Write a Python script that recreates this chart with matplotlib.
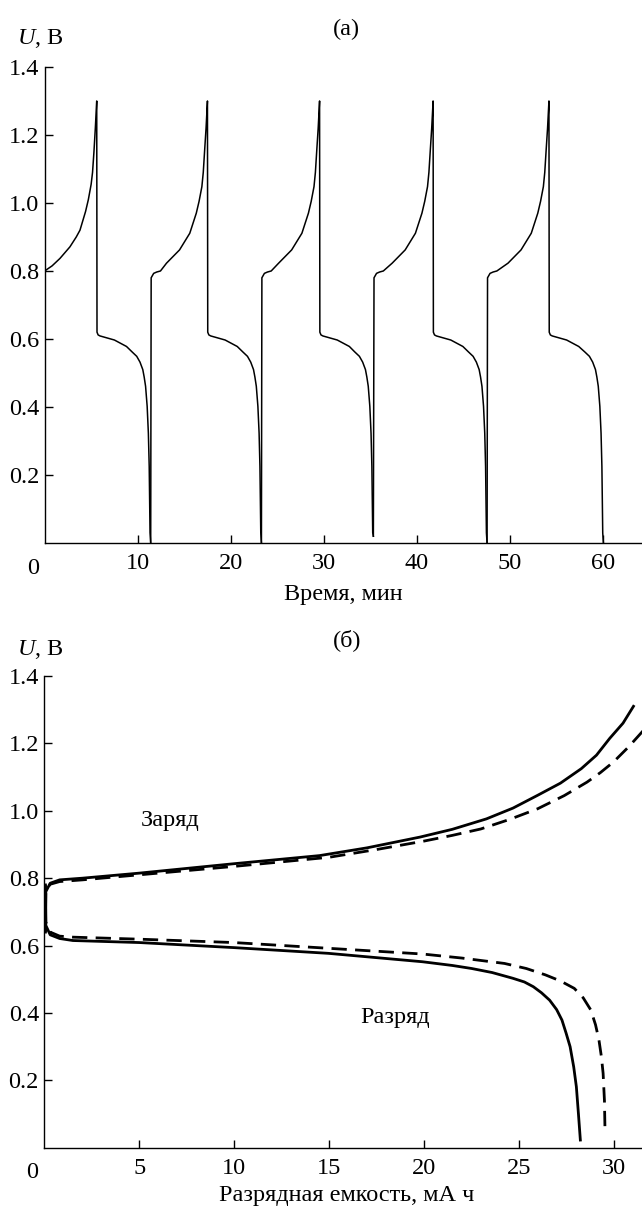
import matplotlib
matplotlib.use("Agg")
import matplotlib.pyplot as plt

plt.rcParams['font.family'] = ['Liberation Serif', 'DejaVu Serif']
plt.rcParams['mathtext.fontset'] = 'custom'
plt.rcParams['mathtext.rm'] = 'Liberation Serif'
plt.rcParams['mathtext.it'] = 'Liberation Serif:italic'

FS = 17.5

# (a) voltage vs time
# first (partial) charge, from t = 0
first_t = [0.0, 0.8, 1.65, 2.72, 3.4, 3.8, 4.4, 4.7, 5.0, 5.15, 5.3, 5.45, 5.6]
first_u = [0.80, 0.815, 0.837, 0.871, 0.90, 0.92, 0.975, 1.01, 1.055, 1.09, 1.15, 1.22, 1.30]

# times of charge start, peak (1.3 V) and end of discharge for every cycle
cycle_start = [None, 11.45, 23.35, 35.4, 47.6]
cycle_peak = [5.6, 17.5, 29.55, 41.75, 54.2]
cycle_end = [11.4, 23.3, 35.33, 47.55, 60.05]
cycle_end_u = [0.0, 0.0, 0.02, 0.0, 0.0]

# charge: jump after start, then the rise before the peak
rise_dt = [-0.03, 0.0, 0.27, 0.6, 1.0]
rise_u = [0.0, 0.78, 0.793, 0.797, 0.80]
top_dt = [-4.4, -3.0, -1.9, -1.2, -0.9, -0.6, -0.45, -0.3, -0.15, 0.0]
top_u = [0.823, 0.862, 0.911, 0.97, 1.005, 1.048, 1.09, 1.156, 1.22, 1.30]
# discharge: drop after the peak, then the fall before the end
drop_dt = [0.03, 0.15, 0.35, 1.9, 3.2]
drop_u = [0.62, 0.612, 0.609, 0.597, 0.578]
fall_dt = [-2.0, -1.5, -1.15, -0.85, -0.7, -0.55, -0.38, -0.25, -0.16, -0.07]
fall_u = [0.562, 0.549, 0.532, 0.51, 0.488, 0.461, 0.402, 0.323, 0.225, 0.03]

# (б) charge / discharge vs capacity, solid and dashed curves
charge_q = [0.05, 0.07, 0.3, 0.8, 2.0, 5.0, 10.0, 14.5, 17.0, 19.8, 21.5, 23.3, 24.7, 26.0,
            27.2, 28.3, 29.1, 29.8, 30.5, 31.05]
charge_u = [0.64, 0.76, 0.785, 0.795, 0.80, 0.815, 0.843, 0.867, 0.89, 0.922, 0.945, 0.976,
            1.008, 1.046, 1.082, 1.125, 1.165, 1.215, 1.26, 1.31]
charge2_q = [0.05, 0.07, 0.3, 0.8, 2.0, 5.0, 10.0, 15.0, 17.5, 20.0, 21.5, 23.0, 24.5, 26.0,
             27.4, 28.6, 29.3, 30.0, 30.8, 31.6]
charge2_u = [0.64, 0.76, 0.782, 0.79, 0.795, 0.81, 0.835, 0.862, 0.885, 0.91, 0.927, 0.946,
             0.974, 1.006, 1.045, 1.085, 1.113, 1.145, 1.19, 1.24]
disch_q = [0.05, 0.07, 0.3, 0.8, 1.5, 5.0, 9.98, 14.96, 19.93, 21.5, 22.52, 23.6, 24.69, 25.3,
           25.77, 26.2, 26.63, 27.0, 27.28, 27.5, 27.71, 27.9, 28.04, 28.15, 28.25]
disch_u = [0.78, 0.66, 0.632, 0.621, 0.615, 0.609, 0.594, 0.577, 0.552, 0.541, 0.532, 0.52,
           0.503, 0.492, 0.478, 0.46, 0.438, 0.41, 0.379, 0.34, 0.30, 0.24, 0.181, 0.10, 0.023]
disch2_q = [0.05, 0.07, 0.3, 0.8, 1.5, 5.0, 9.98, 14.96, 19.93, 22.0, 24.25, 25.4, 26.41, 27.2,
            27.93, 28.4, 28.8, 29.05, 29.23, 29.36, 29.45, 29.52, 29.55]
disch2_u = [0.78, 0.67, 0.64, 0.628, 0.625, 0.619, 0.609, 0.592, 0.575, 0.563, 0.547, 0.532,
            0.513, 0.495, 0.473, 0.445, 0.409, 0.365, 0.32, 0.27, 0.221, 0.14, 0.05]

fig = plt.figure(figsize=(6.42, 12.11), dpi=100)
ax1 = fig.add_axes([0.0695, 0.5516, 0.9305, 0.3931])
ax2 = fig.add_axes([0.0693, 0.0522, 0.9307, 0.3896])

for i in range(len(cycle_peak)):
    p, e = cycle_peak[i], cycle_end[i]
    if cycle_start[i] is None:
        ts, us = list(first_t), list(first_u)
    else:
        s = cycle_start[i]
        ts = [s + d for d in rise_dt] + [p + d for d in top_dt]
        us = list(rise_u) + list(top_u)
        ts[0] = cycle_end[i - 1]
        us[0] = cycle_end_u[i - 1]
    ts += [p + d for d in drop_dt] + [e + d for d in fall_dt] + [e]
    us += list(drop_u) + list(fall_u) + [cycle_end_u[i]]
    ax1.plot(ts, us, color='black', lw=1.1)

ax2.plot(charge_q, charge_u, color='black', lw=2.0)
ax2.plot(disch_q, disch_u, color='black', lw=2.0)
ax2.plot(charge2_q, charge2_u, color='black', lw=2.0, dashes=(5.5, 3))
ax2.plot(disch2_q, disch2_u, color='black', lw=2.0, dashes=(5.5, 3))

ax1.set_xlim(0, 64.2)
ax2.set_xlim(0, 31.5)
ax1.set_xticks([10, 20, 30, 40, 50, 60])
ax2.set_xticks([5, 10, 15, 20, 25, 30])

for ax in (ax1, ax2):
    ax.set_ylim(0, 1.4)
    ax.set_yticks([0.2, 0.4, 0.6, 0.8, 1.0, 1.2, 1.4])
    ax.set_yticklabels(['0.2', '0.4', '0.6', '0.8', '1.0', '1.2', '1.4'])
    ax.spines['top'].set_visible(False)
    ax.spines['right'].set_visible(False)
    ax.spines['left'].set_linewidth(1.0)
    ax.spines['bottom'].set_linewidth(1.0)
    ax.tick_params(direction='in', length=6, width=1.0, labelsize=FS)
    ax.tick_params(axis='x', pad=7)
    ax.tick_params(axis='y', pad=4)
    ax.text(-0.02, -0.031, '0', transform=ax.transAxes, ha='center', va='top', fontsize=FS)

fig.text(0.026, 0.9637, '$U$, В', fontsize=FS, ha='left', va='baseline')
fig.text(0.026, 0.459, '$U$, В', fontsize=FS, ha='left', va='baseline')
fig.text(0.540, 0.976, '(a)', fontsize=FS, ha='center', va='center')
fig.text(0.540, 0.4715, '(б)', fontsize=FS, ha='center', va='center')
fig.text(0.534, 0.5087, 'Время, мин', fontsize=FS, ha='center', va='center')
fig.text(0.540, 0.0125, 'Разрядная емкость, мА ч', fontsize=FS, ha='center', va='center')

ax2.text(6.6, 0.97, 'Заряд', fontsize=FS, ha='center', va='center')
ax2.text(18.5, 0.388, 'Разряд', fontsize=FS, ha='center', va='center')

fig.savefig('out.png', dpi=100)
